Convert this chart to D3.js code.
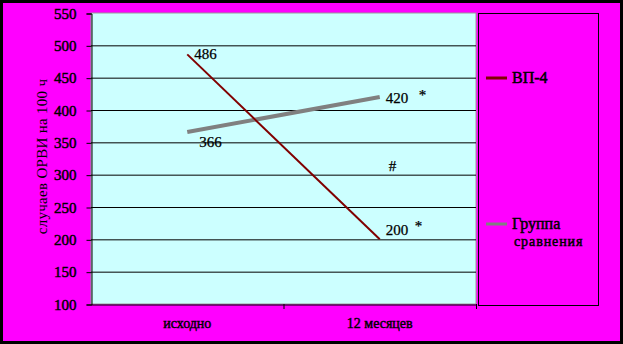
<!DOCTYPE html>
<html>
<head>
<meta charset="utf-8">
<script src="https://cdn.jsdelivr.net/npm/d3@7"></script>
<style>
  body { margin: 0; background: #000; }
</style>
</head>
<body>
<script>
let categories = ["исходно", "12 месяцев"];
let vp4 = [486, 200];
let group = [366, 420];
let yTicks = [100, 150, 200, 250, 300, 350, 400, 450, 500, 550];
let seriesNames = ["ВП-4", "Группа сравнения"];

let width = 623;
let height = 344;
let plot = { left: 91, right: 476, top: 13, bottom: 304 };
let serif = "'Liberation Serif', 'Times New Roman', 'DejaVu Serif', serif";

let svg = d3.select("body").append("svg")
  .attr("width", width)
  .attr("height", height)
  .style("font-family", serif);

// heavy look without relying on a bold face
let heavy = (sel, w) => sel.attr("font-weight", "normal")
  .attr("stroke", "#000").attr("stroke-width", w || 0.5)
  .style("font-family", serif);

// outer black frame + magenta fill
svg.append("rect").attr("width", width).attr("height", height).attr("fill", "#000");
svg.append("rect").attr("x", 3).attr("y", 3).attr("width", width - 6).attr("height", height - 6)
  .attr("fill", "#ff00ff");

let xScale = d3.scaleBand().domain(categories).range([plot.left, plot.right]);
let yScale = d3.scaleLinear().domain([100, 550]).range([plot.bottom, plot.top]);

svg.append("rect")
  .attr("x", plot.left).attr("y", plot.top)
  .attr("width", plot.right - plot.left).attr("height", plot.bottom - plot.top)
  .attr("fill", "#ccffff")
  .attr("stroke", "#999").attr("stroke-width", 1);

// gridlines
svg.selectAll("line.grid")
  .data(yTicks.filter(d => d > 100 && d < 550))
  .enter().append("line")
  .attr("x1", plot.left).attr("x2", plot.right)
  .attr("y1", d => yScale(d) + 0.5).attr("y2", d => yScale(d) + 0.5)
  .attr("stroke", "#000").attr("stroke-width", 1);

// y axis
let yAxis = svg.append("g")
  .attr("transform", `translate(${plot.left + 0.5},0.5)`)
  .call(d3.axisLeft(yScale).tickValues(yTicks).tickSize(5).tickPadding(10));
yAxis.attr("font-family", null);
yAxis.select(".domain").attr("stroke", "#000");
yAxis.selectAll("text")
  .attr("font-size", 15).attr("fill", "#000")
  .call(heavy, 0.45);

// x axis
let xAxis = svg.append("g")
  .attr("transform", `translate(0,${plot.bottom + 0.5})`)
  .call(d3.axisBottom(xScale).tickSize(0).tickPadding(14));
xAxis.attr("font-family", null);
xAxis.select(".domain").attr("stroke", "#000");
xAxis.selectAll("text")
  .attr("font-size", 14).attr("fill", "#000")
  .call(heavy, 0.45);
svg.selectAll("line.xtick")
  .data([xScale(categories[1]), plot.right])
  .enter().append("line")
  .attr("x1", d => d + 0.5).attr("x2", d => d + 0.5)
  .attr("y1", plot.bottom).attr("y2", plot.bottom + 5)
  .attr("stroke", "#000");

// y title
svg.append("text")
  .attr("transform", `translate(47,${(80 + 233) / 2}) rotate(-90)`)
  .attr("text-anchor", "middle")
  .attr("font-size", 15)
  .attr("letter-spacing", 0.3)
  .attr("fill", "#000")
  .style("font-family", serif)
  .text("случаев ОРВИ на 100 ч");

let cx = d => xScale(d) + xScale.bandwidth() / 2;
let line = d3.line().x(d => cx(d[0])).y(d => yScale(d[1]));

svg.append("path")
  .datum(categories.map((c, i) => [c, group[i]]))
  .attr("d", line).attr("fill", "none")
  .attr("stroke", "#808080").attr("stroke-width", 4);

svg.append("path")
  .datum(categories.map((c, i) => [c, vp4[i]]))
  .attr("d", line).attr("fill", "none")
  .attr("stroke", "#800000").attr("stroke-width", 2);

// data labels
let labelStyle = sel => sel.attr("font-size", 15).attr("fill", "#000").call(heavy, 0.25);
svg.append("text").call(labelStyle).attr("x", cx(categories[0]) + 7).attr("y", yScale(vp4[0]) + 5).text(vp4[0]);
svg.append("text").call(labelStyle).attr("x", cx(categories[1]) + 6).attr("y", yScale(vp4[1]) - 4).text(vp4[1]);
svg.append("text").call(labelStyle).attr("x", cx(categories[0]) + 12).attr("y", yScale(group[0]) + 15).text(group[0]);
svg.append("text").call(labelStyle).attr("x", cx(categories[1]) + 6).attr("y", yScale(group[1]) + 6).text(group[1]);
svg.append("text").call(labelStyle).attr("x", cx(categories[1]) + 39).attr("y", yScale(group[1]) + 3).text("*");
svg.append("text").call(labelStyle).attr("x", cx(categories[1]) + 35).attr("y", yScale(vp4[1]) - 8).text("*");
svg.append("text").call(labelStyle).attr("x", cx(categories[1]) + 9).attr("y", 171).text("#");

// legend
svg.append("rect")
  .attr("x", 478.5).attr("y", 13.5).attr("width", 120).attr("height", 292)
  .attr("fill", "none").attr("stroke", "#000").attr("stroke-width", 1);

let legendData = [
  { name: [seriesNames[0]], color: "#800000", y: 78 },
  { name: ["Группа", "сравнения"], color: "#808080", y: 224 }
];
let lg = svg.selectAll("g.legend").data(legendData).enter().append("g");
lg.append("line")
  .attr("x1", 486).attr("x2", 507)
  .attr("y1", d => d.y).attr("y2", d => d.y)
  .attr("stroke", d => d.color).attr("stroke-width", 3);
lg.each(function (d) {
  d3.select(this).selectAll("text").data(d.name).enter().append("text")
    .attr("x", (t, i) => i === 0 ? 512 : 514)
    .attr("y", (t, i) => d.y + 5 + i * 17)
    .attr("font-size", (t, i) => i === 0 ? 16 : 14)
    .attr("letter-spacing", (t, i) => i === 0 ? 0 : 0.9)
    .attr("fill", "#000")
    .call(heavy, 0.5)
    .text(t => t);
});
</script>
</body>
</html>
